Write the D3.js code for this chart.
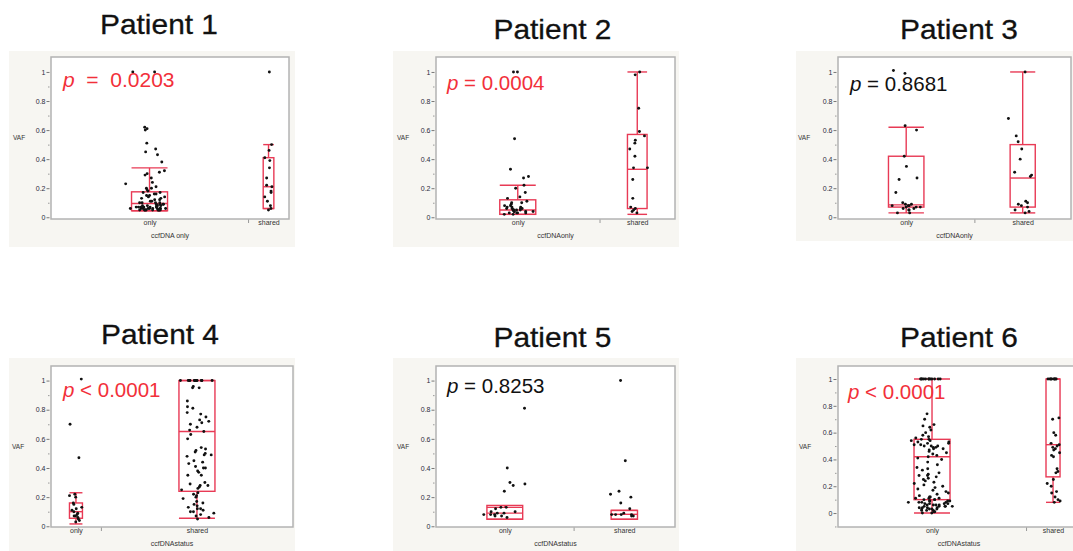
<!DOCTYPE html>
<html><head><meta charset="utf-8">
<script src="https://cdn.jsdelivr.net/npm/d3@7"></script>
<style>
body{margin:0;background:#fff;}
svg{display:block;font-family:"Liberation Sans",Arial,Helvetica,sans-serif;}
</style>
</head><body>
<svg id="c" width="1073" height="551"></svg>
<script>
// ---------- data ----------
const titles = ["Patient 1","Patient 2","Patient 3","Patient 4","Patient 5","Patient 6"];
const pOps = ["  =  "," = "," = "," < "," = "," < "];
const pValues = ["0.0203","0.0004","0.8681","0.0001","0.8253","0.0001"];
const pSignificant = [true,true,false,true,false,true];
const categories = ["only","shared"];
const xTitles = ["ccfDNA only","ccfDNAonly","ccfDNAonly","ccfDNAstatus","ccfDNAstatus","ccfDNAstatus"];
const yTicks = [0,0.2,0.4,0.6,0.8,1];
const yMinorTicks = [-0.1,0.1,0.3,0.5,0.7,0.9];

const p1Only = [1.0,1.0,0.62,0.61,0.60,0.51,0.47,0.45,0.43,0.38,0.32,0.31,0.30,0.29,0.27,0.24,0.23,0.21,0.20,0.20,
  0.19,0.18,0.17,0.17,0.16,0.16,0.15,0.15,0.14,0.14,0.13,0.13,0.12,0.12,0.11,0.11,0.10,0.10,0.10,0.09,
  0.09,0.09,0.08,0.08,0.08,0.08,0.07,0.07,0.07,0.07,0.07,0.07,0.06,0.06,0.06,0.06,0.06,0.06,0.06,0.06,
  0.06,0.05,0.05,0.05,0.05,0.05,0.05,0.05,0.05,0.05,0.05,0.05,0.06,0.07,0.08,0.09,0.10];
const p1Shared = [1.0,0.50,0.46,0.41,0.39,0.34,0.27,0.22,0.21,0.18,0.17,0.14,0.11,0.08,0.06,0.05];
const p2Only = [1.0,1.0,0.54,0.33,0.28,0.27,0.22,0.20,0.17,0.14,0.13,0.11,0.10,0.10,0.09,0.08,0.08,0.07,0.07,0.07,
  0.06,0.06,0.06,0.05,0.05,0.05,0.05,0.04,0.04,0.04,0.04,0.03,0.03,0.03,0.03,0.02,0.02,0.06,0.05];
const p2Shared = [1.0,0.98,0.75,0.59,0.56,0.53,0.51,0.47,0.42,0.34,0.34,0.26,0.13,0.07,0.06,0.05,0.04,0.03];
const p3Only = [1.01,0.99,0.63,0.60,0.42,0.35,0.27,0.26,0.17,0.10,0.09,0.09,0.08,0.08,0.08,0.07,0.07,0.07,0.06,0.06,0.05,0.05,0.03,0.03];
const p3Shared = [1.0,0.68,0.56,0.52,0.47,0.40,0.31,0.29,0.28,0.11,0.10,0.09,0.08,0.07,0.05,0.04,0.03];
const p4Only = [1.01,0.70,0.47,0.22,0.21,0.20,0.16,0.15,0.13,0.12,0.11,0.10,0.09,0.08,0.07,0.07,0.06,0.05,0.04,0.03];
const p4Shared = [1,1,1,1,1,1,1,1,1,1,1,1,1,1,0.96,0.95,0.95,0.86,0.82,0.81,0.78,0.77,0.75,0.73,0.72,0.71,0.70,
  0.68,0.66,0.65,0.63,0.60,0.54,0.53,0.52,0.51,0.50,0.49,0.49,0.48,0.45,0.44,0.43,0.41,0.40,0.40,0.38,
  0.37,0.35,0.35,0.30,0.29,0.28,0.28,0.27,0.26,0.25,0.23,0.22,0.21,0.20,0.19,0.17,0.16,0.15,0.13,0.12,
  0.11,0.10,0.10,0.09,0.08,0.07,0.06,0.05,0.12,0.14];
const p5Only = [0.81,0.40,0.30,0.29,0.28,0.24,0.13,0.13,0.12,0.10,0.10,0.09,0.09,0.08,0.08,0.08,0.07,0.07,0.06];
const p5Shared = [1.0,0.45,0.24,0.22,0.20,0.16,0.12,0.09,0.08,0.08,0.08,0.08,0.07,0.07];
const p6Only = [1,1,1,1,1,1,1,1,1,1,1,1,0.74,0.70,0.66,0.65,0.64,0.62,0.60,0.58,
  0.57,0.56,0.55,0.55,0.54,0.54,0.53,0.53,0.52,0.52,0.51,0.51,0.50,0.50,0.50,0.49,0.49,0.48,0.48,0.47,
  0.46,0.45,0.44,0.43,0.42,0.41,0.40,0.38,0.36,0.34,0.33,0.32,0.30,0.29,0.28,0.28,0.27,0.26,0.25,0.24,
  0.23,0.22,0.21,0.20,0.19,0.18,0.17,0.16,0.15,0.14,0.13,0.12,0.12,0.11,0.11,0.10,0.10,0.10,0.09,0.09,
  0.09,0.08,0.08,0.08,0.08,0.07,0.07,0.07,0.07,0.06,0.06,0.06,0.06,0.05,0.05,0.05,0.05,0.04,0.04,0.04,
  0.04,0.03,0.03,0.03,0.03,0.02,0.02,0.02,0.01,0.01,0.0,0.0,0.11,0.09,0.05];
const p6Shared = [1,1,1,1,1,1,1,1,0.71,0.70,0.60,0.58,0.52,0.51,0.50,0.49,0.48,0.47,0.45,0.43,0.42,
  0.33,0.31,0.30,0.25,0.22,0.20,0.16,0.15,0.12,0.10,0.09,0.08];

// box statistics [lower whisker, q1, median, q3, upper whisker]
const p1Boxes = [[0.045,0.045,0.095,0.175,0.34],[0.06,0.06,0.21,0.41,0.50]];
const p2Boxes = [[0.02,0.02,0.05,0.12,0.22],[0.02,0.06,0.33,0.57,1.0]];
const p3Boxes = [[0.03,0.07,0.085,0.42,0.62],[0.03,0.07,0.27,0.50,1.0]];
const p4Boxes = [[0.016,0.055,0.10,0.16,0.23],[0.055,0.24,0.65,1.0,1.0]];
const p5Boxes = [[0.048,0.048,0.09,0.143,0.13],[0.048,0.048,0.082,0.109,0.109]];
const p6Boxes = [[0.0,0.10,0.42,0.55,1.0],[0.08,0.27,0.51,1.0,1.0]];

const onlyPoints = [p1Only,p2Only,p3Only,p4Only,p5Only,p6Only];
const sharedPoints = [p1Shared,p2Shared,p3Shared,p4Shared,p5Shared,p6Shared];
const boxes = [p1Boxes,p2Boxes,p3Boxes,p4Boxes,p5Boxes,p6Boxes];

// ---------- layout ----------
const layout = [
  {bg:[9,51,286,196],  fr:[51,57,238,162],  yd:[-0.012,1.103], tt:[159,34],   pt:[63,87],   vaf:[13,139.5]},
  {bg:[393,51,286,196],fr:[436,57,239,162], yd:[-0.012,1.103], tt:[552.5,39], pt:[447,90],  vaf:[397,139.5]},
  {bg:[796,51,290,190],fr:[838,57,233,162], yd:[-0.012,1.103], tt:[959,39],   pt:[850,91],  vaf:[798,139.5]},
  {bg:[9,358,286,193], fr:[51,366,242,161], yd:[-0.005,1.10],  tt:[160,344],  pt:[63,397],  vaf:[12,449]},
  {bg:[393,358,286,193],fr:[436,366,239,161],yd:[-0.005,1.10], tt:[552.5,347],pt:[447,393], vaf:[397,449]},
  {bg:[796,358,290,193],fr:[838,366,242,161],yd:[-0.104,1.097],tt:[959,347],  pt:[848,399], vaf:[799,449]}
];
const RED_BOX = "#e83a55", RED_TXT = "#f2303a", BG = "#f7f6f2";

const svg = d3.select("#c");
svg.append("rect").attr("width",1073).attr("height",551).attr("fill","#fff");

// deterministic integer hash -> [0,1)
function hash01(n){
  let h = Math.imul((n+1) ^ 0x9e3779b9, 0x85ebca6b);
  h ^= h >>> 13; h = Math.imul(h, 0xc2b2ae35); h ^= h >>> 16;
  return (h >>> 0) / 4294967296;
}
// centre-peaked jitter in [-1,1]
function jit(i){
  return (hash01(i*3) + hash01(i*3+1) + hash01(i*3+2)) / 1.5 - 1;
}

layout.forEach((L,i)=>{
  const g = svg.append("g");
  g.append("rect").attr("x",L.bg[0]).attr("y",L.bg[1]).attr("width",L.bg[2]).attr("height",L.bg[3]).attr("fill",BG);
  g.append("text").attr("x",L.tt[0]).attr("y",L.tt[1]).attr("text-anchor","middle")
    .attr("font-size",28).attr("textLength",118).attr("lengthAdjust","spacingAndGlyphs")
    .attr("fill","#111").attr("stroke","#111").attr("stroke-width",0.3).text(titles[i]);

  const [fx,fy,fw,fh] = L.fr;
  g.append("rect").attr("x",fx).attr("y",fy).attr("width",fw).attr("height",fh)
    .attr("fill","#fff").attr("stroke","#b3b3b3").attr("stroke-width",1.5);

  const series = [onlyPoints[i], sharedPoints[i]];
  const counts = series.map(s=>s.length);
  const total = counts[0]+counts[1];
  const x = d3.scaleLinear().domain([0,total]).range([fx,fx+fw]);
  const y = d3.scaleLinear().domain(L.yd).range([fy+fh,fy]);
  const centers = [counts[0]/2, counts[0]+counts[1]/2];

  // y axis
  const ya = g.append("g").attr("transform",`translate(${fx-1.5},0)`)
    .call(d3.axisLeft(y).tickValues(yTicks).tickSize(3).tickPadding(1)
      .tickFormat(d=> d===0?"0":(d===1?"1":d3.format(".1f")(d))));
  ya.select(".domain").remove();
  ya.selectAll("text").attr("font-size",7).attr("fill","#2b2b3c").attr("font-family","Liberation Sans, Arial");
  ya.selectAll("line").attr("stroke","#777");
  const ym = g.append("g").attr("transform",`translate(${fx-1.5},0)`)
    .call(d3.axisLeft(y).tickValues(yMinorTicks.filter(v=>v>=L.yd[0]&&v<=L.yd[1])).tickSize(1.5).tickFormat(""));
  ym.select(".domain").remove();
  ym.selectAll("line").attr("stroke","#999");

  // x axis
  const xa = g.append("g").attr("transform",`translate(0,${fy+fh})`)
    .call(d3.axisBottom(x).tickValues(centers).tickSize(0).tickPadding(1.5).tickFormat((d,k)=>categories[k]));
  xa.select(".domain").remove();
  xa.selectAll("text").attr("font-size",7).attr("fill","#333").attr("font-family","Liberation Sans, Arial");
  const xb = g.append("g").attr("transform",`translate(0,${fy+fh+0.5})`)
    .call(d3.axisBottom(x).tickValues([counts[0]]).tickSize(3.5).tickFormat(""));
  xb.select(".domain").remove();
  xb.selectAll("line").attr("stroke","#999");

  g.append("text").attr("x",fx+fw/2).attr("y",fy+fh+18.5).attr("text-anchor","middle")
    .attr("font-size",7).attr("fill","#333").text(xTitles[i]);
  g.append("text").attr("x",L.vaf[0]).attr("y",L.vaf[1]).attr("font-size",6.5).attr("fill","#333").text("VAF");

  // boxes and points
  series.forEach((pts,k)=>{
    const catW = x(counts[k]) - x(0);
    const bw = Math.min(36, 0.26*catW);
    const cx = x(centers[k]);
    const [wlo,q1,med,q3,whi] = boxes[i][k];
    const bg2 = g.append("g").attr("stroke",RED_BOX).attr("stroke-width",1.4).attr("fill","none");
    bg2.append("line").attr("x1",cx).attr("x2",cx).attr("y1",y(q3)).attr("y2",y(whi));
    bg2.append("line").attr("x1",cx).attr("x2",cx).attr("y1",y(q1)).attr("y2",y(wlo));
    bg2.append("line").attr("x1",cx-bw/2).attr("x2",cx+bw/2).attr("y1",y(whi)).attr("y2",y(whi));
    bg2.append("line").attr("x1",cx-bw/2).attr("x2",cx+bw/2).attr("y1",y(wlo)).attr("y2",y(wlo));
    bg2.append("rect").attr("x",cx-bw/2).attr("y",y(q3)).attr("width",bw).attr("height",Math.max(0,y(q1)-y(q3)));
    bg2.append("line").attr("x1",cx-bw/2).attr("x2",cx+bw/2).attr("y1",y(med)).attr("y2",y(med));

    const seed = i*1000 + k*500;
    g.append("g").selectAll("circle").data(pts).join("circle")
      .attr("cx",(d,j)=>cx + jit(seed+j)*bw*0.7)
      .attr("cy",d=>y(d))
      .attr("r",1.45).attr("fill","#111");
  });

  // p text
  const t = g.append("text").attr("x",L.pt[0]).attr("y",L.pt[1]).attr("font-size",i===0?21:20.5)
    .attr("fill",pSignificant[i]?RED_TXT:"#111").style("white-space","pre");
  t.append("tspan").attr("font-style","italic").text("p");
  t.append("tspan").text(pOps[i]+pValues[i]);
});
</script>
</body></html>
